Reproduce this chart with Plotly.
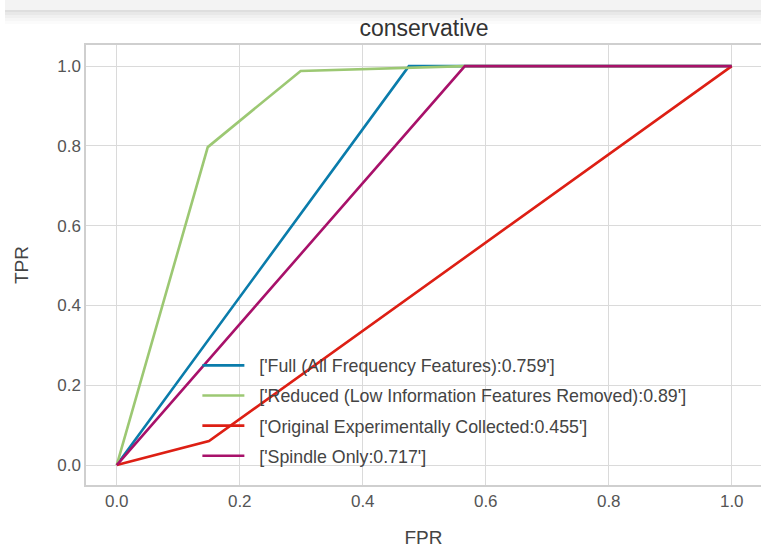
import plotly.graph_objects as go

names = [
    "['Full (All Frequency Features):0.759']",
    "['Reduced (Low Information Features Removed):0.89']",
    "['Original Experimentally Collected:0.455']",
    "['Spindle Only:0.717']",
]
fpr_full = [0.0, 0.475, 1.0]
tpr_full = [0.0, 1.0, 1.0]
fpr_reduced = [0.0, 0.148, 0.299, 0.566, 1.0]
tpr_reduced = [0.0, 0.797, 0.988, 1.0, 1.0]
fpr_orig = [0.0, 0.15, 1.0]
tpr_orig = [0.0, 0.06, 1.0]
fpr_spindle = [0.0, 0.566, 1.0]
tpr_spindle = [0.0, 1.0, 1.0]
colors = ["#0a7cab", "#9cc873", "#dd1f14", "#a8116a"]
xticks = [0.0, 0.2, 0.4, 0.6, 0.8, 1.0]
yticks = [0.0, 0.2, 0.4, 0.6, 0.8, 1.0]

series = [(fpr_full, tpr_full), (fpr_reduced, tpr_reduced), (fpr_orig, tpr_orig), (fpr_spindle, tpr_spindle)]

fig = go.Figure()
for i, ((x, y), n, c) in enumerate(zip(series, names, colors)):
    fig.add_trace(go.Scatter(x=x, y=y, mode="lines", name="\u00a0\u00a0" + n, legendgroup=str(i),
                             line=dict(color=c, width=2.6)))

font = "Liberation Sans, Arial, sans-serif"
fig.update_layout(
    width=761, height=548,
    margin=dict(l=86, r=0, t=45, b=63),
    paper_bgcolor="white", plot_bgcolor="white",
    title=dict(text="conservative", x=424 / 761, xanchor="center", y=1 - 28 / 548, yanchor="middle",
               font=dict(family=font, size=23, color="#333333")),
    font=dict(family=font, size=17, color="#444444"),
    showlegend=True,
    legend=dict(x=0.165, y=0.313, xanchor="left", yanchor="top", bgcolor="rgba(0,0,0,0)",
                font=dict(family=font, size=17.8, color="#444444"), tracegroupgap=4, itemwidth=42),
    xaxis=dict(range=[-0.05, -0.05 + 675 / 615], tickvals=xticks, ticktext=[f"{v:.1f}" for v in xticks],
               showgrid=True, gridcolor="#dadada", gridwidth=1.3, zeroline=False,
               showline=True, linecolor="#cfcfcf", linewidth=1.5, mirror=True, ticks="",
               title=dict(text="FPR", standoff=22, font=dict(size=19, color="#444444")),
               tickfont=dict(size=17, color="#555555")),
    yaxis=dict(range=[-0.05, 1.053], tickvals=yticks, ticktext=[f"{v:.1f}" for v in yticks],
               showgrid=True, gridcolor="#dadada", gridwidth=1.3, zeroline=False,
               showline=True, linecolor="#cfcfcf", linewidth=1.5, ticks="",
               title=dict(text="TPR", standoff=24, font=dict(size=19, color="#444444")),
               tickfont=dict(size=17, color="#555555")),
)

# top shadow band
band = [(0, 10, "#f3f3f3"), (10, 12, "#dedede"), (12, 15, "#e8e8e8"), (15, 18, "#f0f0f0"), (18, 21, "#f6f6f6"), (21, 24, "#fbfbfb")]
for p0, p1, col in band:
    fig.add_shape(type="rect", xref="paper", yref="paper",
                  x0=-81 / 675, x1=1.0, y0=(485 - p1) / 440, y1=(485 - p0) / 440,
                  fillcolor=col, line=dict(width=0), layer="below")

fig.write_html("out.html")
